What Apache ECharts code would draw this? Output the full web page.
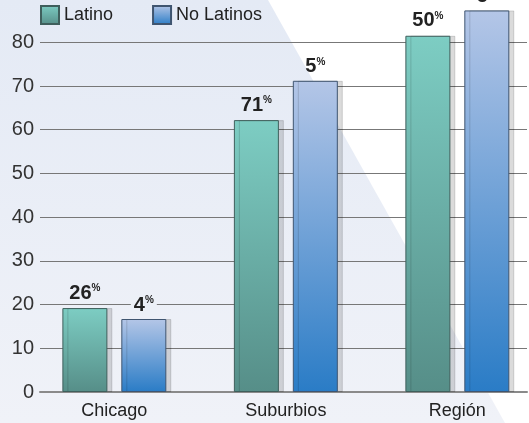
<!DOCTYPE html>
<html>
<head>
<meta charset="utf-8">
<script src="https://cdn.jsdelivr.net/npm/echarts@6/dist/echarts.min.js"></script>
<style>
  html, body { margin: 0; padding: 0; background: #fff; }
  #chart { width: 529px; height: 423px; }
</style>
</head>
<body>
<div id="chart"></div>
<script>
// datos
var categories = ["Chicago", "Suburbios", "Región"];
var latino = [19.2, 62.2, 81.5];
var noLatinos = [16.7, 71.2, 87.3];
var latinoLabels = ["26", "71", "50"];
var noLatinosLabels = ["4", "5", "5"];
var yTicks = { min: 0, max: 90, interval: 10 };

var font = "Liberation Sans";

function pctLabel(arr) {
  return function (p) {
    return "{n|" + arr[p.dataIndex] + "}{p|%}";
  };
}

var labelRich = {
  n: { fontFamily: font, fontSize: 20, fontWeight: "bold", color: "#222", lineHeight: 20 },
  p: { fontFamily: font, fontSize: 10, fontWeight: "bold", color: "#222", verticalAlign: "top", lineHeight: 20 }
};

var myChart = echarts.init(document.getElementById("chart"));
myChart.setOption({
  backgroundColor: "#ffffff",
  animation: false,
  graphic: [
    {
      type: "polygon",
      z: -10,
      shape: { points: [[0, 0], [268, 0], [505, 423], [0, 423]] },
      style: {
        fill: new echarts.graphic.LinearGradient(0, 0, 0, 1, [
          { offset: 0, color: "#e4eaf5" },
          { offset: 1, color: "#f0f2f8" }
        ])
      }
    }
  ],
  legend: {
    left: 40,
    top: 5,
    padding: 0,
    itemWidth: 18,
    itemHeight: 18,
    itemGap: 39,
    icon: "rect",
    textStyle: { fontFamily: font, fontSize: 18, color: "#222" },
    data: ["Latino", "No Latinos"]
  },
  grid: [
    // lineas de fondo
    { left: 40, right: 2, top: 392 - 90 * 4.371, bottom: 31, outerBoundsMode: "none" },
    // barras
    { left: 28.6, width: 514.5, top: 392 - 90 * 4.371, bottom: 31, outerBoundsMode: "none" }
  ],
  xAxis: [
    {
      gridIndex: 0,
      type: "value",
      min: 0,
      max: 1,
      axisLabel: { show: false },
      axisTick: { show: false },
      splitLine: { show: false },
      axisLine: { show: true, lineStyle: { color: "#8a8a8a", width: 2 } }
    },
    {
      gridIndex: 1,
      type: "category",
      data: categories,
      axisLine: { show: false },
      axisTick: { show: false },
      axisLabel: { fontFamily: font, fontSize: 18, color: "#222", margin: 10 }
    }
  ],
  yAxis: [
    {
      gridIndex: 0,
      type: "value",
      min: yTicks.min,
      max: yTicks.max,
      interval: yTicks.interval,
      axisLine: { show: false },
      axisTick: { show: false },
      axisLabel: { fontFamily: font, fontSize: 20, color: "#333", margin: 6, showMaxLabel: false },
      splitLine: { lineStyle: { color: "#777", width: 1 } }
    },
    {
      gridIndex: 1,
      type: "value",
      min: yTicks.min,
      max: yTicks.max,
      interval: yTicks.interval,
      show: false,
      splitLine: { show: false }
    }
  ],
  series: [
    {
      name: "Latino",
      type: "bar",
      xAxisIndex: 1,
      yAxisIndex: 1,
      barWidth: 45,
      barGap: "31%",
      data: latino,
      itemStyle: {
        color: new echarts.graphic.LinearGradient(0, 0, 0, 1, [
          { offset: 0, color: "#7dcdc3" },
          { offset: 1, color: "#568e88" }
        ]),
        borderColor: "#3f5f5c",
        borderWidth: 1,
        shadowColor: "rgba(0,0,0,0.14)",
        shadowOffsetX: 5,
        shadowOffsetY: 0
      },
      label: {
        show: true,
        position: "top",
        distance: 5,
        formatter: pctLabel(latinoLabels),
        rich: labelRich
      }
    },
    {
      name: "No Latinos",
      type: "bar",
      xAxisIndex: 1,
      yAxisIndex: 1,
      barWidth: 45,
      data: noLatinos.map(function (v, i) {
        if (i === 0) {
          return { value: v, label: { backgroundColor: "#ecf0f7", padding: [0, 3] } };
        }
        return v;
      }),
      itemStyle: {
        color: new echarts.graphic.LinearGradient(0, 0, 0, 1, [
          { offset: 0, color: "#b4c6e7" },
          { offset: 1, color: "#2a7cc6" }
        ]),
        borderColor: "#3f5570",
        borderWidth: 1,
        shadowColor: "rgba(0,0,0,0.14)",
        shadowOffsetX: 5,
        shadowOffsetY: 0
      },
      label: {
        show: true,
        position: "top",
        distance: 4,
        formatter: pctLabel(noLatinosLabels),
        rich: labelRich
      }
    }
  ]
});
</script>
</body>
</html>
